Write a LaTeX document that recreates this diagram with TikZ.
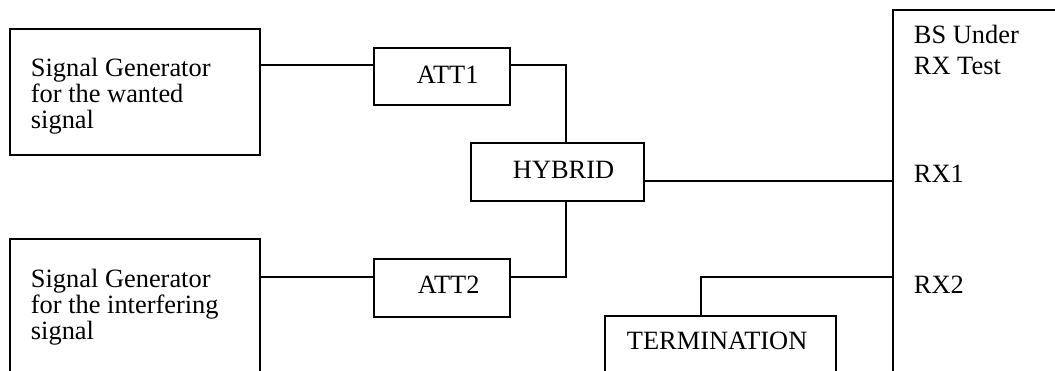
\documentclass[tikz,border=0pt]{standalone}
\usepackage{fontspec}
\setmainfont{Liberation Serif}
\usetikzlibrary{calc}

\tikzset{
  unit/.style={draw, rectangle, inner sep=0pt, anchor=north west},
  txt/.style={anchor=base west, inner sep=0pt, align=left, font=\fontsize{13.2}{13}\selectfont}
}

\begin{document}
\begin{tikzpicture}[x=0.5pt, y=-0.5pt, line width=0.95pt]

        \useasboundingbox (0,0) rectangle (1055,370);
        \clip (0,0) rectangle (1055,370);

        \coordinate (lvlw) at (0,65);
        \coordinate (lvlr1) at (0,181);
        \coordinate (lvli) at (0,277);
        \coordinate (join) at (566,0);
        \coordinate (tap) at (701,0);

        \node[unit, minimum width=125pt, minimum height=63pt] (sgw) at (9,28) {};
        \node[unit, minimum width=125pt, minimum height=70pt] (sgi) at (9,238) {};
        \node[unit, minimum width=68pt, minimum height=28.5pt] (att1) at (373,47) {};
        \node[unit, minimum width=68pt, minimum height=29pt] (att2) at (373,258) {};
        \node[unit, minimum width=86.5pt, minimum height=29pt] (hyb) at (470,142) {};
        \node[unit, minimum width=115.5pt, minimum height=35pt] (term) at (604,315) {};
        \node[unit, minimum width=90pt, minimum height=190pt] (bs) at (892,9) {};

        % base of a multi-line text is its last line
        \node[txt] (sgwtxt) at (30,128) {Signal Generator\\for the wanted\\signal};
        \node[txt] (sgitxt) at (30,339) {Signal Generator\\for the interfering\\signal};
        \node[txt] (att1txt) at (416,83) {ATT1};
        \node[txt] (att2txt) at (417,293) {ATT2};
        \node[txt] (hybtxt) at (512,178) {HYBRID};
        \node[txt] (termtxt) at (626,349) {TERMINATION};
        \node[txt, font=\fontsize{13.2}{15.5}\selectfont] (bstxt) at (913,74) {BS Under\\RX Test};
        \node[txt] (rx1txt) at (913,182) {RX1};
        \node[txt] (rx2txt) at (913,293) {RX2};

        \draw (sgw.east |- lvlw) -- (att1.west |- lvlw);
        \draw (att1.east |- lvlw) -| (join |- hyb.north);
        \draw (sgi.east |- lvli) -- (att2.west |- lvli);
        \draw (att2.east |- lvli) -| (join |- hyb.south);
        \draw (hyb.east |- lvlr1) -- (bs.west |- lvlr1);
        \draw (tap |- term.north) |- (bs.west |- lvli);

\end{tikzpicture}
\end{document}
